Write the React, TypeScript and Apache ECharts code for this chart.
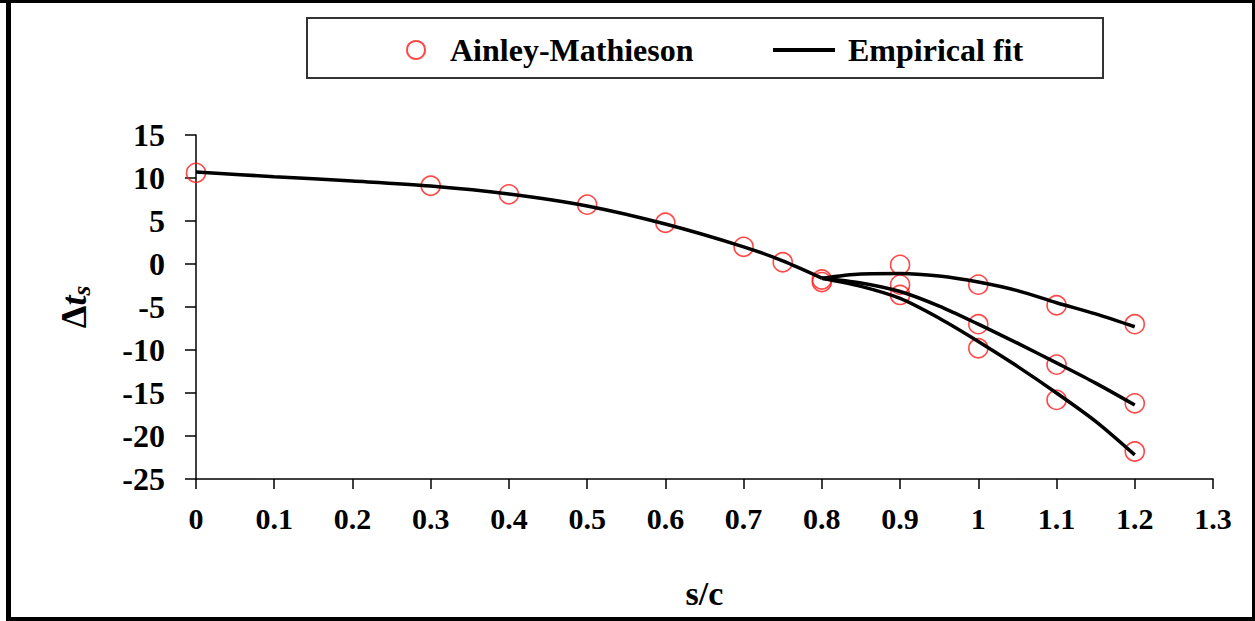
import React, { useEffect, useRef } from "react";
import * as echarts from "echarts";

// Ainley-Mathieson points
const amX = [0, 0.3, 0.4, 0.5, 0.6, 0.7, 0.75, 0.8, 0.8, 0.9, 0.9, 0.9, 1.0, 1.0, 1.0, 1.1, 1.1, 1.1, 1.2, 1.2, 1.2];
const amY = [10.6, 9.1, 8.1, 6.9, 4.8, 2.0, 0.2, -1.8, -2.1, -0.1, -2.4, -3.6, -2.4, -7.0, -9.8, -4.8, -11.7, -15.8, -7.0, -16.2, -21.8];

// Empirical fit: trunk and three branches
const trunkX = [0, 0.1, 0.2, 0.3, 0.4, 0.5, 0.6, 0.7, 0.75, 0.8];
const trunkY = [10.7, 10.15, 9.65, 9.07, 8.14, 6.75, 4.65, 2.0, 0.36, -1.65];
const branchX = [0.8, 0.85, 0.9, 0.95, 1.0, 1.05, 1.1, 1.15, 1.2];
const branchUpY = [-1.65, -1.15, -1.1, -1.4, -2.1, -3.1, -4.5, -5.8, -7.3];
const branchMidY = [-1.65, -2.2, -3.2, -4.9, -7.0, -9.2, -11.5, -13.85, -16.4];
const branchLowY = [-1.65, -2.6, -4.0, -6.3, -9.0, -11.9, -15.0, -18.3, -22.2];

const xTicks = { min: 0, max: 1.3, interval: 0.1 };
const yTicks = { min: -25, max: 15, interval: 5 };

const FONT = "'Liberation Serif', 'Times New Roman', serif";

const pairs = (xs: number[], ys: number[]) => xs.map((x, i) => [x, ys[i]]);

export default function App() {
  const ref = useRef<HTMLDivElement>(null);
  useEffect(() => {
    if (!ref.current) return;
    const chart = echarts.init(ref.current, undefined, { renderer: "svg" });
    const lineSeries = (data: number[][]) => ({
      type: "line",
      name: "Empirical fit",
      data,
      smooth: 0.3,
      symbol: "none",
      showSymbol: false,
      lineStyle: { color: "#000", width: 3.5 },
      itemStyle: { color: "#000" },
      z: 3,
    });
    chart.setOption({
      animation: false,
      backgroundColor: "#fff",
      textStyle: { fontFamily: FONT },
      grid: { left: 196, right: 42, top: 135, bottom: 142, containLabel: false },
      legend: [
        {
          data: [{ name: "Ainley-Mathieson", icon: "circle" }],
          left: 406,
          top: 34,
          padding: 0,
          itemWidth: 58,
          itemHeight: 18,
          textStyle: { fontFamily: FONT, fontWeight: "bold", fontSize: 32, color: "#000", lineHeight: 32 },
        },
        {
          data: [{ name: "Empirical fit", icon: "rect", itemStyle: { color: "#000" } }],
          left: 773,
          top: 34,
          padding: 0,
          itemWidth: 62,
          itemHeight: 4,
          textStyle: { fontFamily: FONT, fontWeight: "bold", fontSize: 32, color: "#000", lineHeight: 32, padding: [0, 0, 0, 8] },
        },
      ],
      xAxis: {
        type: "value",
        min: xTicks.min,
        max: xTicks.max,
        interval: xTicks.interval,
        name: "s/c",
        nameLocation: "middle",
        nameGap: 97,
        nameTextStyle: { fontFamily: FONT, fontWeight: "bold", fontSize: 34, color: "#000" },
        axisLine: { onZero: false, lineStyle: { color: "#000", width: 1.5 } },
        axisTick: { inside: false, length: 10, lineStyle: { color: "#000", width: 1.5 } },
        axisLabel: {
          margin: 24,
          fontFamily: FONT,
          fontWeight: "bold",
          fontSize: 30,
          color: "#000",
          formatter: (v: number) => String(+v.toFixed(1)),
        },
        splitLine: { show: false },
      },
      yAxis: {
        type: "value",
        min: yTicks.min,
        max: yTicks.max,
        interval: yTicks.interval,
        name: "{d|Δ}{t|t}{s|s}",
        nameLocation: "middle",
        nameRotate: 90,
        nameGap: 102,
        nameTextStyle: {
          rich: {
            d: { fontFamily: FONT, fontWeight: "bold", fontSize: 36, lineHeight: 40, verticalAlign: "middle", color: "#000" },
            t: { fontFamily: FONT, fontWeight: "bold", fontStyle: "italic", fontSize: 36, lineHeight: 40, verticalAlign: "middle", color: "#000" },
            s: { fontFamily: FONT, fontWeight: "bold", fontStyle: "italic", fontSize: 25, lineHeight: 24, verticalAlign: "bottom", color: "#000" },
          },
        },
        axisLine: { onZero: false, lineStyle: { color: "#000", width: 1.5 } },
        axisTick: { inside: false, length: 11, lineStyle: { color: "#000", width: 1.5 } },
        axisLabel: { margin: 31, fontFamily: FONT, fontWeight: "bold", fontSize: 32, color: "#000" },
        splitLine: { show: false },
      },
      series: [
        {
          type: "scatter",
          name: "Ainley-Mathieson",
          data: pairs(amX, amY),
          symbol: "circle",
          symbolSize: 19,
          itemStyle: { color: "rgba(255,255,255,0)", borderColor: "#ff1a1a", borderWidth: 1.6 },
          z: 2,
        },
        lineSeries(pairs(trunkX, trunkY)),
        lineSeries(pairs(branchX, branchUpY)),
        lineSeries(pairs(branchX, branchMidY)),
        lineSeries(pairs(branchX, branchLowY)),
      ],
      graphic: [
        { type: "rect", shape: { x: 307, y: 18, width: 796, height: 60 }, style: { fill: "none", stroke: "#333", lineWidth: 2 }, silent: true },
        { type: "rect", shape: { x: 6, y: 0, width: 5, height: 621 }, style: { fill: "#000" }, silent: true },
        { type: "rect", shape: { x: 0, y: 0, width: 1255, height: 3 }, style: { fill: "#000" }, silent: true },
        { type: "rect", shape: { x: 1252, y: 0, width: 3, height: 621 }, style: { fill: "#000" }, silent: true },
        { type: "rect", shape: { x: 6, y: 617, width: 1249, height: 4 }, style: { fill: "#000" }, silent: true },
      ],
    });
    return () => chart.dispose();
  }, []);
  return <div ref={ref} style={{ position: "absolute", left: 0, top: 0, width: 1255, height: 621 }} />;
}
